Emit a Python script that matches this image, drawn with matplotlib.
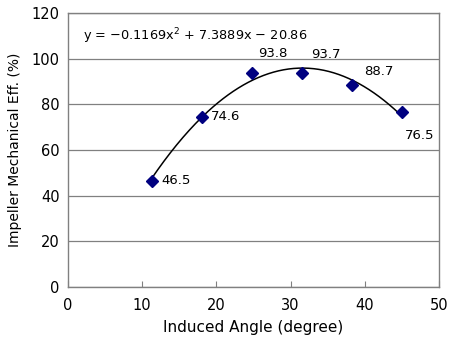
import numpy as np
import matplotlib
matplotlib.use("Agg")
import matplotlib.pyplot as plt

angles = [11.25, 18.0, 24.75, 31.5, 38.25, 45.0]
eff = [46.5, 74.6, 93.8, 93.7, 88.7, 76.5]
labels = ["46.5", "74.6", "93.8", "93.7", "88.7", "76.5"]
coef = [-0.1169, 7.3889, -20.86]
x_ticks = [0, 10, 20, 30, 40, 50]
y_ticks = [0, 20, 40, 60, 80, 100, 120]

fig = plt.figure(figsize=(4.51, 3.43), dpi=100)
ax = fig.add_axes([0.151, 0.163, 0.822, 0.799])

ax.set_xlim(0, 50)
ax.set_ylim(0, 120)
ax.set_xticks(x_ticks)
ax.set_yticks(y_ticks)
ax.yaxis.grid(True, color="#808080", linewidth=0.9)
ax.set_axisbelow(True)
for s in ax.spines.values():
    s.set_color("#808080")
    s.set_linewidth(1.0)
ax.tick_params(axis="x", direction="in", length=4, color="#808080", labelsize=10.5, pad=8)
ax.tick_params(axis="y", length=0, labelsize=10.5, pad=6)

xs = np.linspace(min(angles), max(angles), 200)
ax.plot(xs, np.polyval(coef, xs), color="black", linewidth=1.1, zorder=2)
ax.plot(angles, eff, linestyle="none", marker="D", markersize=6, color="#000080", zorder=3)

offsets = [(7, 0, "left", "center"), (7, 0, "left", "center"), (5, 9, "left", "bottom"),
           (7, 9, "left", "bottom"), (9, 5, "left", "bottom"), (2, -12, "left", "top")]
for x, y, t, (dx, dy, ha, va) in zip(angles, eff, labels, offsets):
    ax.annotate(t, (x, y), xytext=(dx, dy), textcoords="offset points",
                ha=ha, va=va, fontsize=9.5)

ax.text(2.0, 110, "y = \u22120.1169x$^2$ + 7.3889x \u2212 20.86", fontsize=9.3, va="center", ha="left")

ax.set_xlabel("Induced Angle (degree)", fontsize=11, labelpad=5)
ax.set_ylabel("Impeller Mechanical Eff. (%)", fontsize=10, labelpad=7)

fig.savefig("out.png", dpi=100)
